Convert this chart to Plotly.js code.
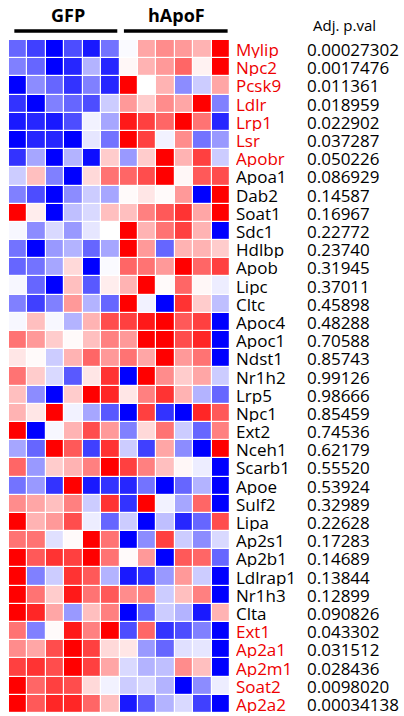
<!DOCTYPE html>
<html>
<head>
<meta charset="utf-8">
<script src="https://cdn.plot.ly/plotly-3.0.1.min.js"></script>
<style>html,body{margin:0;padding:0;background:#fff;}#chart{width:404px;height:716px;}</style>
</head>
<body>
<div id="chart"></div>
<script>
const samples = ['GFP-1','GFP-2','GFP-3','GFP-4','GFP-5','GFP-6','hApoF-1','hApoF-2','hApoF-3','hApoF-4','hApoF-5','hApoF-6'];
const groups = ['GFP', 'hApoF'];
const genes = ['Mylip','Npc2','Pcsk9','Ldlr','Lrp1','Lsr','Apobr','Apoa1','Dab2','Soat1','Sdc1','Hdlbp','Apob','Lipc','Cltc','Apoc4','Apoc1','Ndst1','Nr1h2','Lrp5','Npc1','Ext2','Nceh1','Scarb1','Apoe','Sulf2','Lipa','Ap2s1','Ap2b1','Ldlrap1','Nr1h3','Clta','Ext1','Ap2a1','Ap2m1','Soat2','Ap2a2'];
const pvals = ['0.00027302','0.0017476','0.011361','0.018959','0.022902','0.037287','0.050226','0.086929','0.14587','0.16967','0.22772','0.23740','0.31945','0.37011','0.45898','0.48288','0.70588','0.85743','0.99126','0.98666','0.85459','0.74536','0.62179','0.55520','0.53924','0.32989','0.22628','0.17283','0.14689','0.13844','0.12899','0.090826','0.043302','0.031512','0.028436','0.0098020','0.00034138'];
const significant = ['Mylip','Npc2','Pcsk9','Ldlr','Lrp1','Lsr','Apobr','Ext1','Ap2a1','Ap2m1','Soat2','Ap2a2'];
const expression = [
  [-0.6,-0.75,-1,-0.7,-0.9,-0.55, -0.02,0.35,0.45,0.4,0.3,1],
  [-0.5,-0.6,-1,-0.85,-0.3,-0.85, 0.03,0.3,0.4,0.6,0.05,1],
  [-1,-0.45,-0.6,-0.8,-0.5,-0.85, 1,0,0.3,-0.45,-0.2,0.35],
  [-0.8,-1,-0.5,-0.6,-0.7,-0.2, 0.4,0.2,0.45,0.35,1,-0.5],
  [-0.9,-0.85,-0.9,-0.7,-0.05,-0.35, 0.9,0.75,0.6,1,0.55,-0.85],
  [-1,-0.85,-0.85,-1,-0.1,-0.55, 1,0.75,-0.05,0.45,-0.55,-0.4],
  [-0.8,-0.35,-1,-0.3,-0.95,0.2, -0.4,0.2,1,0.3,0.75,-0.2],
  [-0.2,0.25,-0.5,-1,0.15,0.55, 0.6,0.7,1,0.03,0.65,0.7],
  [-0.5,-0.7,-1,-0.45,-0.2,-0.35, 0.02,0.1,0.02,0.4,-1,1],
  [1,0.07,-1,-0.25,-0.15,0.25, 0.25,0.5,0.65,0.8,0.35,1],
  [-0.03,-0.45,-0.15,-0.4,-0.1,0, 1,0.3,0.55,0.75,0.3,-1],
  [-0.55,-1,-0.4,-0.3,-0.6,-0.35, 1,0.4,-0.6,0.3,0.3,0.2],
  [-0.6,-0.55,-0.35,0.15,-1,-0.02, 0.6,0.55,0.4,1,0.6,0.75],
  [-0.03,-0.6,-1,0.25,-0.65,0.07, 0.3,1,0.02,0.6,0.03,-0.07],
  [-0.5,-0.75,-0.5,0.4,-0.3,-0.6, 1,-0.05,-1,0.8,0.2,-0.25],
  [-0.03,0.25,-0.03,-0.3,0.3,0.7, 0.75,0.9,1,0.65,0.75,-1],
  [0.55,0.4,0.2,0.02,0.25,0.5, 0.4,1,1,0.7,0.85,-1],
  [0.1,0.02,-0.2,0.3,0.6,0.4, 0.55,0.35,1,0.4,0.55,-1],
  [0.55,0.2,-0.15,-0.65,0.1,0.8, -1,1,0.45,0.2,0.35,-0.2],
  [0.25,-0.45,-1,0.2,1,0.85, 0.1,0.5,0.8,0.3,-0.3,-0.6],
  [0.3,0.1,1,-0.05,-0.35,-0.65, -1,0.75,-0.8,-1,0.85,0.65],
  [1,-1,-0.03,0.3,0.7,0.4, -0.5,0.15,0.55,-0.2,-0.6,0.5],
  [-0.35,-0.6,1,0.65,-0.75,0.8, -0.2,-0.75,0.35,-0.45,-1,1],
  [0.6,-0.4,0.2,0.3,0.5,1, 0.75,0.5,0.25,0.03,-0.07,-1],
  [-0.55,-0.4,-0.8,1,-0.9,-0.8, -0.85,-0.55,-1,-0.6,-0.3,-1],
  [0.45,0.35,0.25,0.5,-0.2,0.8, -0.8,1,-0.05,-0.35,0.6,-1],
  [1,0.3,0.4,0.7,-0.07,-0.6, -0.2,-1,-0.25,-0.85,-0.6,0.7],
  [0.55,0.55,-0.12,0.02,1,0.55, -1,-0.45,0.75,-0.2,-0.45,-0.15],
  [1,0.65,0.8,0.75,1,0.55, 0.02,0.4,-1,0.65,0.6,-0.6],
  [1,-0.5,-0.2,0.8,0.65,-0.3, -0.9,-0.8,-0.4,0.4,-0.2,-1],
  [1,0.55,0.2,0.9,0.55,0.65, 0.45,0.5,-0.2,0.25,0.5,-1],
  [1,0.85,0.35,-0.4,0.25,0.5, -1,-0.6,-0.2,-0.3,-0.9,0.3],
  [0.55,-0.5,0.02,0.9,0.5,1, -0.7,0.6,-0.8,-0.7,-0.5,-1],
  [0.45,0.35,0.7,1,0.75,0.15, 0.1,-0.4,-0.6,-0.12,-0.1,-1],
  [0.75,0.8,0.7,1,0.75,0.35, -0.15,-0.3,-0.25,0.45,0.25,-1],
  [1,0.6,0.75,0.7,0.15,-0.05, -0.2,-0.15,-0.3,-1,-0.45,-0.07],
  [1,0.65,0.85,0.85,0.6,0.25, -0.9,-0.65,-0.3,-0.15,-0.75,-1]
];

const W = 404, H = 716;
const px = v => v / W;
const py = v => (H - v) / H;
const labelFont = {family: 'Open Sans, Liberation Sans, sans-serif', size: 17, color: '#000'};

const trace = {
  type: 'heatmap',
  z: expression,
  x: samples.map((s, i) => i),
  y: genes.map((g, i) => i),
  zmin: -1, zmax: 1,
  colorscale: [[0, 'rgb(0,0,255)'], [0.5, 'rgb(255,255,255)'], [1, 'rgb(255,0,0)']],
  showscale: false,
  xgap: 1.2, ygap: 1.2,
  hoverinfo: 'skip'
};

const annotations = [];
genes.forEach((g, i) => {
  annotations.push({
    xref: 'paper', yref: 'y', x: px(235), y: i, xanchor: 'left', yanchor: 'middle',
    text: g, showarrow: false, height: 18, valign: 'middle', borderpad: 0,
    font: Object.assign({}, labelFont, {color: significant.includes(g) ? 'rgb(238,0,0)' : '#000'})
  });
  annotations.push({
    xref: 'paper', yref: 'y', x: px(305.5), y: i, xanchor: 'left', yanchor: 'middle',
    text: pvals[i], showarrow: false, height: 18, valign: 'middle', borderpad: 0, font: labelFont
  });
});
annotations.push({
  xref: 'paper', yref: 'paper', x: px(310.5), y: py(25), xanchor: 'left', yanchor: 'middle',
  text: 'Adj. p.val', showarrow: false,
  font: {family: 'Open Sans, Liberation Sans, sans-serif', size: 15, color: '#000'}
});
const groupCenters = [2.7, 8.6];
groups.forEach((g, k) => {
  annotations.push({
    xref: 'x', yref: 'paper', x: groupCenters[k], y: py(15), xanchor: 'center', yanchor: 'middle',
    text: '<b>' + g + '</b>', showarrow: false,
    font: {family: 'Open Sans, Liberation Sans, sans-serif', size: 18, color: '#000'}
  });
});

const bars = [[-0.21, 5.38], [5.74, 11.37]];
const shapes = bars.map(b => ({
  type: 'line', xref: 'x', yref: 'paper', x0: b[0], x1: b[1], y0: py(31), y1: py(31),
  line: {color: '#000', width: 3.5}
}));

const layout = {
  width: W, height: H,
  margin: {l: 0, r: 0, t: 0, b: 0},
  paper_bgcolor: '#fff', plot_bgcolor: '#fff',
  showlegend: false,
  xaxis: {domain: [px(9), px(230)], range: [-0.5, 11.5], showticklabels: false, showgrid: false, zeroline: false, ticks: '', fixedrange: true},
  yaxis: {domain: [3 / H, py(40)], range: [36.5, -0.5], showticklabels: false, showgrid: false, zeroline: false, ticks: '', fixedrange: true},
  annotations: annotations,
  shapes: shapes
};

Plotly.newPlot('chart', [trace], layout, {displayModeBar: false, staticPlot: true});
</script>
</body>
</html>
